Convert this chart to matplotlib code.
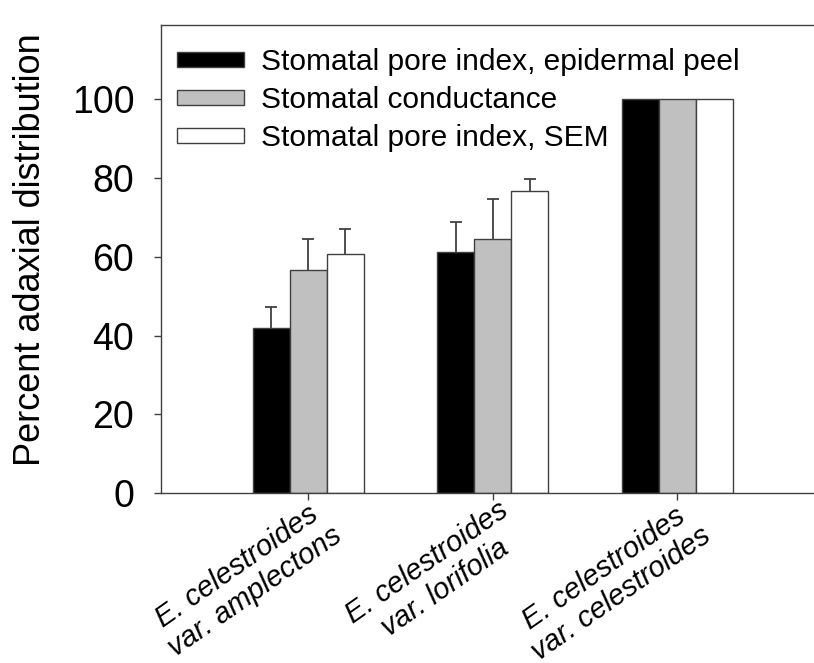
import numpy as np
import matplotlib
matplotlib.use("Agg")
import matplotlib.pyplot as plt
from matplotlib.transforms import ScaledTranslation

plt.rcParams['font.family'] = ['Liberation Sans', 'DejaVu Sans']

# ---- data ----
varieties = ["E. celestroides\nvar. amplectons",
             "E. celestroides\nvar. lorifolia",
             "E. celestroides\nvar. celestroides"]
series = ["Stomatal pore index, epidermal peel",
          "Stomatal conductance",
          "Stomatal pore index, SEM"]
peel = [41.9, 61.1, 100]
conductance = [56.7, 64.5, 100]
sem = [60.7, 76.8, 100]
peel_err = [5.4, 7.8, np.nan]
conductance_err = [7.8, 10.2, np.nan]
sem_err = [6.3, 3.0, np.nan]
yticks = [0, 20, 40, 60, 80, 100]

edge = "#404040"
colors = ["black", "#c0c0c0", "white"]

fig = plt.figure(figsize=(8.14, 6.63), dpi=100)
# axes run past the right edge of the figure, so no right border shows
ax = fig.add_axes([0.1974, 0.256, 0.85, 0.7056])

x = np.arange(1, len(varieties) + 1)
width = 0.2
values = [peel, conductance, sem]
errors = [peel_err, conductance_err, sem_err]

for i, (vals, errs) in enumerate(zip(values, errors)):
    pos = x + (i - 1) * width
    vals = np.array(vals)
    errs = np.array(errs)
    ax.bar(pos, vals, width, color=colors[i], edgecolor=edge, linewidth=1.0,
           label=series[i], zorder=2)
    # upper error only: stem from bar top plus a cap
    ax.vlines(pos, vals, vals + errs, color=edge, linewidth=1.3, zorder=1)
    ax.plot(pos, vals + errs, linestyle="none", marker="_", markersize=8,
            markeredgewidth=1.3, color=edge, zorder=1)

ax.set_xlim(0.2, 0.2 + 0.85 * 814 / 184.5)
ax.set_ylim(0, 118.7)
ax.set_yticks(yticks)
ax.set_xticks(x)

ax.spines["right"].set_visible(False)
for side in ["left", "bottom", "top"]:
    ax.spines[side].set_color(edge)
    ax.spines[side].set_linewidth(1.0)

ax.tick_params(axis="y", direction="out", length=5, width=1.0, color=edge,
               labelsize=27, pad=14)
ax.tick_params(axis="x", direction="out", length=5, width=1.0, color=edge,
               pad=-3)

ax.set_xticklabels(varieties, rotation=35, ha="right", va="top",
                   rotation_mode="anchor", multialignment="center",
                   fontstyle="italic", fontsize=21, linespacing=1.12)
shift = ScaledTranslation(5 / 100, 0, fig.dpi_scale_trans)
for lab in ax.get_xticklabels():
    lab.set_transform(lab.get_transform() + shift)

ax.set_ylabel("Percent adaxial distribution", fontsize=26)
ax.yaxis.set_label_coords(-0.163, 0.52)

leg = ax.legend(loc="upper left", bbox_to_anchor=(177 / 814, 1 - 48 / 663),
                bbox_transform=fig.transFigure, frameon=False, fontsize=21.5,
                handlelength=2.25, handleheight=0.42, handletextpad=0.55,
                labelspacing=0.34, borderpad=0, borderaxespad=0)

fig.savefig("out.png", dpi=100)
